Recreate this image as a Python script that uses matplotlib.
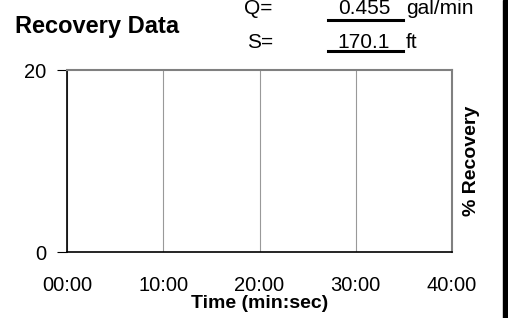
import matplotlib
matplotlib.use("Agg")
import matplotlib.pyplot as plt
from matplotlib.lines import Line2D
from matplotlib.patches import Rectangle

plt.rcParams['font.family'] = ['Liberation Sans', 'DejaVu Sans']

# data (chart has no recovery points yet)
time_min = []
recovery = []
xticks = [0, 10, 20, 30, 40]
xlabels = ["00:00", "10:00", "20:00", "30:00", "40:00"]
yticks = [0, 20]
q_value = "0.455"
s_value = "170.1"

fig = plt.figure(figsize=(5.08, 3.18), dpi=100)
ax = fig.add_axes([67/508, 1-252/318, (452-67)/508, (252-70)/318])

ax.plot(time_min, recovery, color="black")
ax.set_xlim(0, 40)
ax.set_ylim(0, 20)
ax.set_xticks(xticks)
ax.set_xticklabels(xlabels, fontsize=14.5)
ax.set_yticks(yticks)
ax.tick_params(axis="y", labelsize=14.5, length=7, width=0.8, direction="out", pad=8)
ax.tick_params(axis="x", length=0, pad=17)
ax.grid(axis="x", color="#999999", linewidth=0.8)
for s in ["top", "right"]:
    ax.spines[s].set_color("#808080")
    ax.spines[s].set_linewidth(1.5)
for s in ["left", "bottom"]:
    ax.spines[s].set_color("black")
    ax.spines[s].set_linewidth(1.2)

ax.set_xlabel("Time (min:sec)", fontsize=14, fontweight="bold", labelpad=0)
ax.yaxis.set_label_position("right")
ax.set_ylabel("% Recovery", fontsize=14, fontweight="bold", labelpad=8)

fig.text(15/508, 1-27/318, "Recovery Data", fontsize=17, fontweight="bold", va="center", ha="left")
fig.text(258/508, 1-8/318, "Q=", fontsize=15, va="center", ha="center")
fig.text(364/508, 1-8/318, q_value, fontsize=15, va="center", ha="center")
fig.text(406/508, 1-8/318, "gal/min", fontsize=15, va="center", ha="left")
fig.text(260/508, 1-43/318, "S=", fontsize=15, va="center", ha="center")
fig.text(364/508, 1-43/318, s_value, fontsize=15, va="center", ha="center")
fig.text(406/508, 1-43/318, "ft", fontsize=15, va="center", ha="left")
for yy in [20, 51]:
    fig.add_artist(Line2D([328/508, 403/508], [1-yy/318, 1-yy/318], color="black", linewidth=2.2))

fig.add_artist(Rectangle((503/508, 0), 5/508, 1, color="black", transform=fig.transFigure))

fig.savefig("out.png", dpi=100)
